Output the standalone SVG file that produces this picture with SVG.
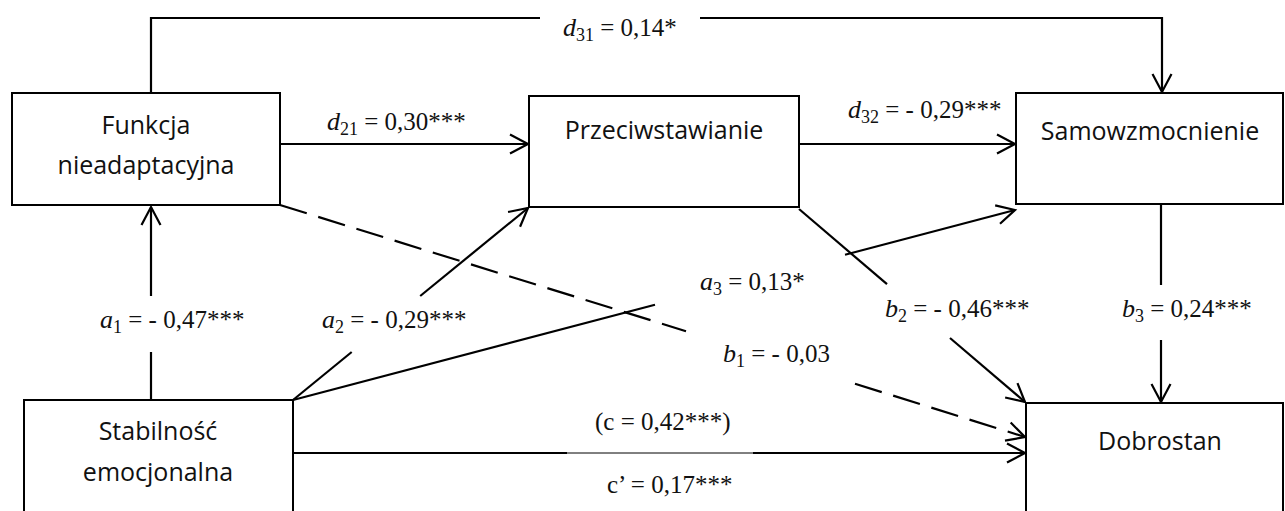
<svg xmlns="http://www.w3.org/2000/svg" width="1285" height="511" viewBox="0 0 1285 511">
<style>
.box{fill:#fff;stroke:#000;stroke-width:2}
.nt{font-family:"Open Sans","Liberation Sans",sans-serif;font-size:25px;fill:#111;text-anchor:middle}
.ln{fill:none;stroke:#000;stroke-width:2.2}
.dash{stroke-dasharray:28 12}
.thin{fill:none;stroke:#000;stroke-width:1}
.lbl{font-family:"Liberation Serif","Times New Roman",serif;font-size:25px;fill:#111}
.v{font-style:italic;font-size:26px}
.s{font-size:18px}
</style>
<defs>
<marker id="ah" markerUnits="userSpaceOnUse" markerWidth="26" markerHeight="26" viewBox="-22 -13 26 26" refX="0" refY="0" orient="auto">
<path d="M-18,-9.5 L0,0 L-18,9.5" fill="none" stroke="#000" stroke-width="2.2"/>
</marker>
</defs>
<rect width="1285" height="511" fill="#fff"/>
<g id="connectors">
<path class="ln" d="M151,93 V18 H540"/>
<path class="ln" d="M700,18 H1162 V92" marker-end="url(#ah)"/>
<path class="ln" d="M280,144 H528" marker-end="url(#ah)"/>
<path class="ln" d="M799,144 H1015" marker-end="url(#ah)"/>
<path class="ln" d="M151,400 V352"/>
<path class="ln" d="M151,296 V207" marker-end="url(#ah)"/>
<path class="ln" d="M293,400 L351.7,352"/>
<path class="ln" d="M420.2,296 L528,208" marker-end="url(#ah)"/>
<path class="ln" d="M293,400 L655,304.7"/>
<path class="ln" d="M845,254.7 L1015,210" marker-end="url(#ah)"/>
<path class="ln dash" d="M280,205 L686,331.2"/>
<path class="ln dash" d="M855,383.7 L1025,437" marker-end="url(#ah)"/>
<path class="ln" d="M799,209 L887,284.2"/>
<path class="ln" d="M950,338 L1025,402" marker-end="url(#ah)"/>
<path class="ln" d="M1161,204 V285"/>
<path class="ln" d="M1161,340 V402" marker-end="url(#ah)"/>
<path class="ln" d="M293,453 H567"/>
<path class="thin" d="M567,453 H753"/>
<path class="ln" d="M753,453 H1025" marker-end="url(#ah)"/>
</g>
<g id="labels">
<text class="lbl" x="563" y="36"><tspan class="v">d</tspan><tspan class="s" dy="5">31</tspan><tspan dy="-5"> = 0,14*</tspan></text>
<text class="lbl" x="327" y="130"><tspan class="v">d</tspan><tspan class="s" dy="5">21</tspan><tspan dy="-5"> = 0,30***</tspan></text>
<text class="lbl" x="848" y="118"><tspan class="v">d</tspan><tspan class="s" dy="5">32</tspan><tspan dy="-5"> = - 0,29***</tspan></text>
<text class="lbl" x="100" y="328"><tspan class="v">a</tspan><tspan class="s" dy="5">1</tspan><tspan dy="-5"> = - 0,47***</tspan></text>
<text class="lbl" x="322" y="328"><tspan class="v">a</tspan><tspan class="s" dy="5">2</tspan><tspan dy="-5"> = - 0,29***</tspan></text>
<text class="lbl" x="700" y="290"><tspan class="v">a</tspan><tspan class="s" dy="5">3</tspan><tspan dy="-5"> = 0,13*</tspan></text>
<text class="lbl" x="723" y="362"><tspan class="v">b</tspan><tspan class="s" dy="5">1</tspan><tspan dy="-5"> = - 0,03</tspan></text>
<text class="lbl" x="885" y="317"><tspan class="v">b</tspan><tspan class="s" dy="5">2</tspan><tspan dy="-5"> = - 0,46***</tspan></text>
<text class="lbl" x="1122" y="317"><tspan class="v">b</tspan><tspan class="s" dy="5">3</tspan><tspan dy="-5"> = 0,24***</tspan></text>
<text class="lbl" x="595" y="430">(c = 0,42***)</text>
<text class="lbl" x="607" y="493">c’ = 0,17***</text>
</g>
<g id="node-funkcja">
<rect class="box" x="12" y="93" width="268" height="112"/>
<text class="nt" x="146" y="134">Funkcja</text>
<text class="nt" x="146" y="174">nieadaptacyjna</text>
</g>
<g id="node-przeciwstawianie">
<rect class="box" x="529" y="96" width="270" height="111"/>
<text class="nt" x="664" y="139">Przeciwstawianie</text>
</g>
<g id="node-samowzmocnienie">
<rect class="box" x="1016" y="93" width="267" height="111"/>
<text class="nt" x="1150" y="140">Samowzmocnienie</text>
</g>
<g id="node-stabilnosc">
<rect class="box" x="24" y="400" width="269" height="130"/>
<text class="nt" x="158" y="440">Stabilność</text>
<text class="nt" x="158" y="481">emocjonalna</text>
</g>
<g id="node-dobrostan">
<rect class="box" x="1026" y="403" width="257" height="130"/>
<text class="nt" x="1160" y="450">Dobrostan</text>
</g>
</svg>
